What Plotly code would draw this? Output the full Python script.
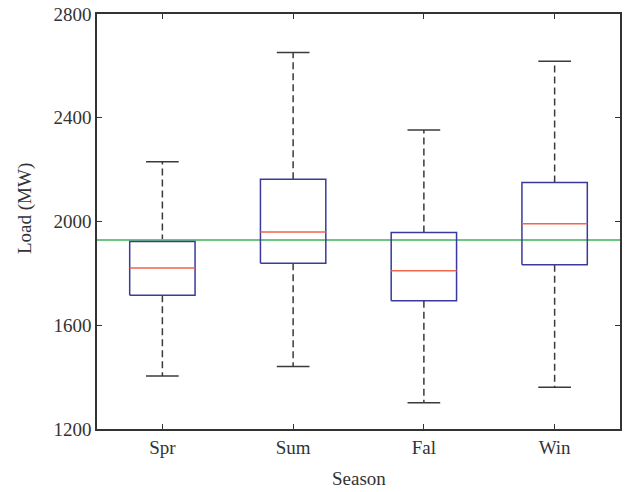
import plotly.graph_objects as go

seasons = ["Spr", "Sum", "Fal", "Win"]
upper_whisker = [2230, 2652, 2353, 2618]
q3 = [1923, 2163, 1958, 2150]
median = [1821, 1960, 1810, 1991]
q1 = [1716, 1839, 1694, 1833]
lower_whisker = [1404, 1441, 1301, 1361]
mean_load = 1929
y_ticks = [1200, 1600, 2000, 2400, 2800]

BOX_HALF = 0.25
CAP_HALF = 0.125
BOX_COLOR = "#3a3a9c"
MED_COLOR = "#f0654c"
WHISK_COLOR = "#3a3a3a"
GREEN = "#6cc680"

fig = go.Figure()

wx, wy, cx, cy, bx, by, mx, my = [], [], [], [], [], [], [], []
for i, s in enumerate(seasons):
    p = i + 1
    wx += [p, p, None, p, p, None]
    wy += [q3[i], upper_whisker[i], None, q1[i], lower_whisker[i], None]
    cx += [p - CAP_HALF, p + CAP_HALF, None, p - CAP_HALF, p + CAP_HALF, None]
    cy += [upper_whisker[i], upper_whisker[i], None, lower_whisker[i], lower_whisker[i], None]
    bx += [p - BOX_HALF, p + BOX_HALF, p + BOX_HALF, p - BOX_HALF, p - BOX_HALF, None]
    by += [q1[i], q1[i], q3[i], q3[i], q1[i], None]
    mx += [p - BOX_HALF, p + BOX_HALF, None]
    my += [median[i], median[i], None]

fig.add_trace(go.Scatter(x=wx, y=wy, mode="lines",
                         line=dict(color=WHISK_COLOR, width=1.5, dash="7px,4px"),
                         showlegend=False, hoverinfo="skip"))
fig.add_trace(go.Scatter(x=cx, y=cy, mode="lines",
                         line=dict(color=WHISK_COLOR, width=1.5),
                         showlegend=False, hoverinfo="skip"))
fig.add_trace(go.Scatter(x=[0.5, 4.5], y=[mean_load, mean_load], mode="lines",
                         line=dict(color=GREEN, width=2),
                         showlegend=False, hoverinfo="skip"))
fig.add_trace(go.Scatter(x=bx, y=by, mode="lines",
                         line=dict(color=BOX_COLOR, width=1.5),
                         showlegend=False, hoverinfo="skip"))
fig.add_trace(go.Scatter(x=mx, y=my, mode="lines",
                         line=dict(color=MED_COLOR, width=1.5),
                         showlegend=False, hoverinfo="skip"))

FONT = "Liberation Serif, Times New Roman, serif"
axis_common = dict(showline=True, linecolor="#333333", linewidth=1.5, mirror="ticks",
                   ticks="inside", ticklen=5, tickcolor="#333333", tickwidth=1,
                   showgrid=False, zeroline=False, automargin=False,
                   tickfont=dict(family=FONT, size=19, color="#333333"))

fig.update_layout(
    width=633, height=492,
    margin=dict(l=97, r=13, t=14, b=63),
    paper_bgcolor="white", plot_bgcolor="white",
    xaxis=dict(range=[0.5, 4.5], tickmode="array", tickvals=[1, 2, 3, 4],
               ticktext=seasons, **axis_common),
    yaxis=dict(range=[1200, 2800], tickmode="array", tickvals=y_ticks,
               ticktext=[str(v) for v in y_ticks], **axis_common),
    annotations=[
        dict(text="Season", xref="paper", yref="paper", x=0.5, y=0,
             yshift=-49, yanchor="middle", showarrow=False,
             font=dict(family=FONT, size=19, color="#333333")),
        dict(text="Load (MW)", xref="paper", yref="paper", x=0, y=0.53,
             xshift=-72, xanchor="center", yanchor="middle", textangle=-90,
             showarrow=False, font=dict(family=FONT, size=19, color="#333333")),
    ],
)

fig.write_html("out.html", config={"displayModeBar": False},
               post_script="document.body.style.margin='0';")
